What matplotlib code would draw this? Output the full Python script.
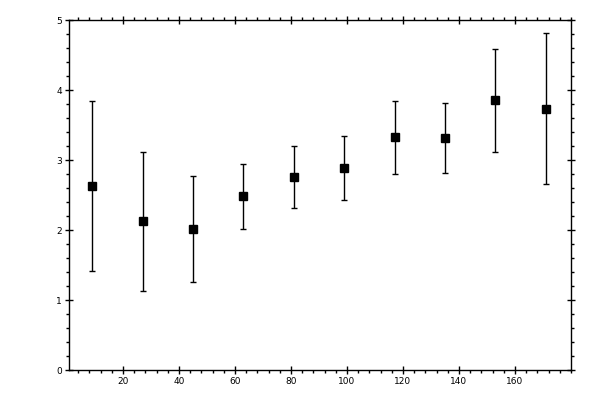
import matplotlib
matplotlib.use("Agg")
import matplotlib.pyplot as plt
from matplotlib.ticker import MultipleLocator

x = [9, 27, 45, 63, 81, 99, 117, 135, 153, 171]
y = [2.63, 2.13, 2.01, 2.49, 2.76, 2.89, 3.33, 3.31, 3.86, 3.73]
y_hi = [3.84, 3.12, 2.77, 2.95, 3.20, 3.35, 3.85, 3.81, 4.58, 4.81]
y_lo = [1.41, 1.13, 1.26, 2.01, 2.31, 2.43, 2.80, 2.81, 3.11, 2.66]

err_lo = [a - b for a, b in zip(y, y_lo)]
err_hi = [b - a for a, b in zip(y, y_hi)]

fig = plt.figure(figsize=(6, 4), dpi=100)
ax = fig.add_axes([69/600, 30/400, (571-69)/600, (370-20)/400])

ax.errorbar(x, y, yerr=[err_lo, err_hi], fmt='s', color='black',
            markersize=5.2, elinewidth=1.0, capsize=2.2, capthick=1.0,
            ecolor='black')

ax.set_xlim(0.7, 180)
ax.set_ylim(0, 5)
ax.xaxis.set_major_locator(MultipleLocator(20))
ax.xaxis.set_minor_locator(MultipleLocator(4))
ax.yaxis.set_major_locator(MultipleLocator(1))
ax.yaxis.set_minor_locator(MultipleLocator(0.2))

ax.tick_params(which='major', direction='inout', length=6, width=1.0,
               top=True, right=True, labelsize=6.5, pad=2)
ax.tick_params(which='minor', direction='out', length=2.5, width=1.0,
               top=True, right=True)

xt = [20, 40, 60, 80, 100, 120, 140, 160]
ax.set_xticks(xt)
ax.set_xticklabels([str(v) for v in xt])
yt = [0, 1, 2, 3, 4, 5]
ax.set_yticks(yt)
ax.set_yticklabels([str(v) for v in yt])

for s in ax.spines.values():
    s.set_linewidth(1.0)

fig.savefig("out.png", dpi=100)
